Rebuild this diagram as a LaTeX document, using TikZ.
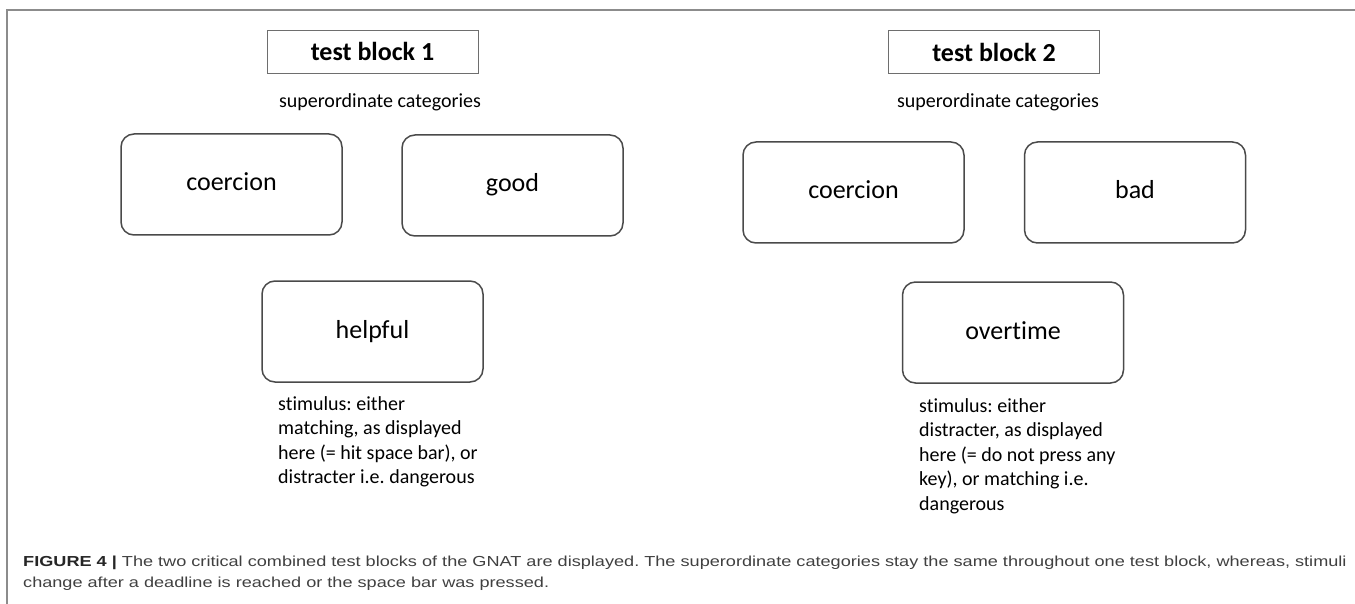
\documentclass[tikz,border=0pt]{standalone}
\usepackage{fontspec}
\setmainfont{Carlito}[Ligatures=NoCommon]
\newfontfamily\capfont{Liberation Sans}[FakeStretch=1.25]
\definecolor{boxline}{HTML}{4A4A4A}
\definecolor{frameline}{HTML}{8C8C8C}
\definecolor{captext}{HTML}{404040}
\frenchspacing

\begin{document}
\begin{tikzpicture}[x=1pt, y=-1pt,
  blocktitle/.style={draw=boxline!80, line width=0.9pt, minimum width=211pt, minimum height=43pt,
    font=\fontsize{26}{30}\selectfont\bfseries},
  category/.style={draw=boxline, line width=1.5pt, rounded corners=13pt, minimum width=221pt,
    minimum height=101pt, text height=18pt, text depth=5pt, font=\fontsize{26}{30}\selectfont},
  subtitle/.style={font=\fontsize{20}{24}\selectfont},
  stimtext/.style={anchor=north west, inner sep=0pt, align=left, font=\fontsize{20}{24.5}\selectfont}]
  \useasboundingbox (0,0) rectangle (1355,604);
  % frame
  \draw[frameline, line width=2pt] (7,604) -- (7,10) -- (1355,10);
  % test block 1
  \node[blocktitle] (tb1) at (372.5,51.5) {test block 1};
  \node[subtitle] (sup1) at (380,102) {superordinate categories};
  \node[category] (coer1) at (231.5,184.5) {coercion};
  \node[category] (good) at (512.5,185.5) {good};
  \node[category] (help) at (372.5,331.5) {helpful};
  \node[stimtext] (stim1) at (278,396) {stimulus: either\\matching, as displayed\\here (= hit space bar), or\\distracter i.e. dangerous};
  % test block 2
  \node[blocktitle] (tb2) at (994,52) {test block 2};
  \node[subtitle] (sup2) at (998,102) {superordinate categories};
  \node[category] (coer2) at (853.5,192.5) {coercion};
  \node[category] (bad) at (1135,192.5) {bad};
  \node[category] (over) at (1013,332.5) {overtime};
  \node[stimtext] (stim2) at (919,398) {stimulus: either\\distracter, as displayed\\here (= do not press any\\key), or matching i.e.\\dangerous};
  % caption
  \node[anchor=north west, inner sep=0pt, align=left, text=captext,
    font=\capfont\fontsize{14.5}{20.5}\selectfont] (cap) at (23,556)
    {{\bfseries\color{black!85}FIGURE 4 |} The two critical combined test blocks of the GNAT are displayed. The superordinate categories stay the same throughout one test block, whereas, stimuli\\change after a deadline is reached or the space bar was pressed.};
\end{tikzpicture}
\end{document}
